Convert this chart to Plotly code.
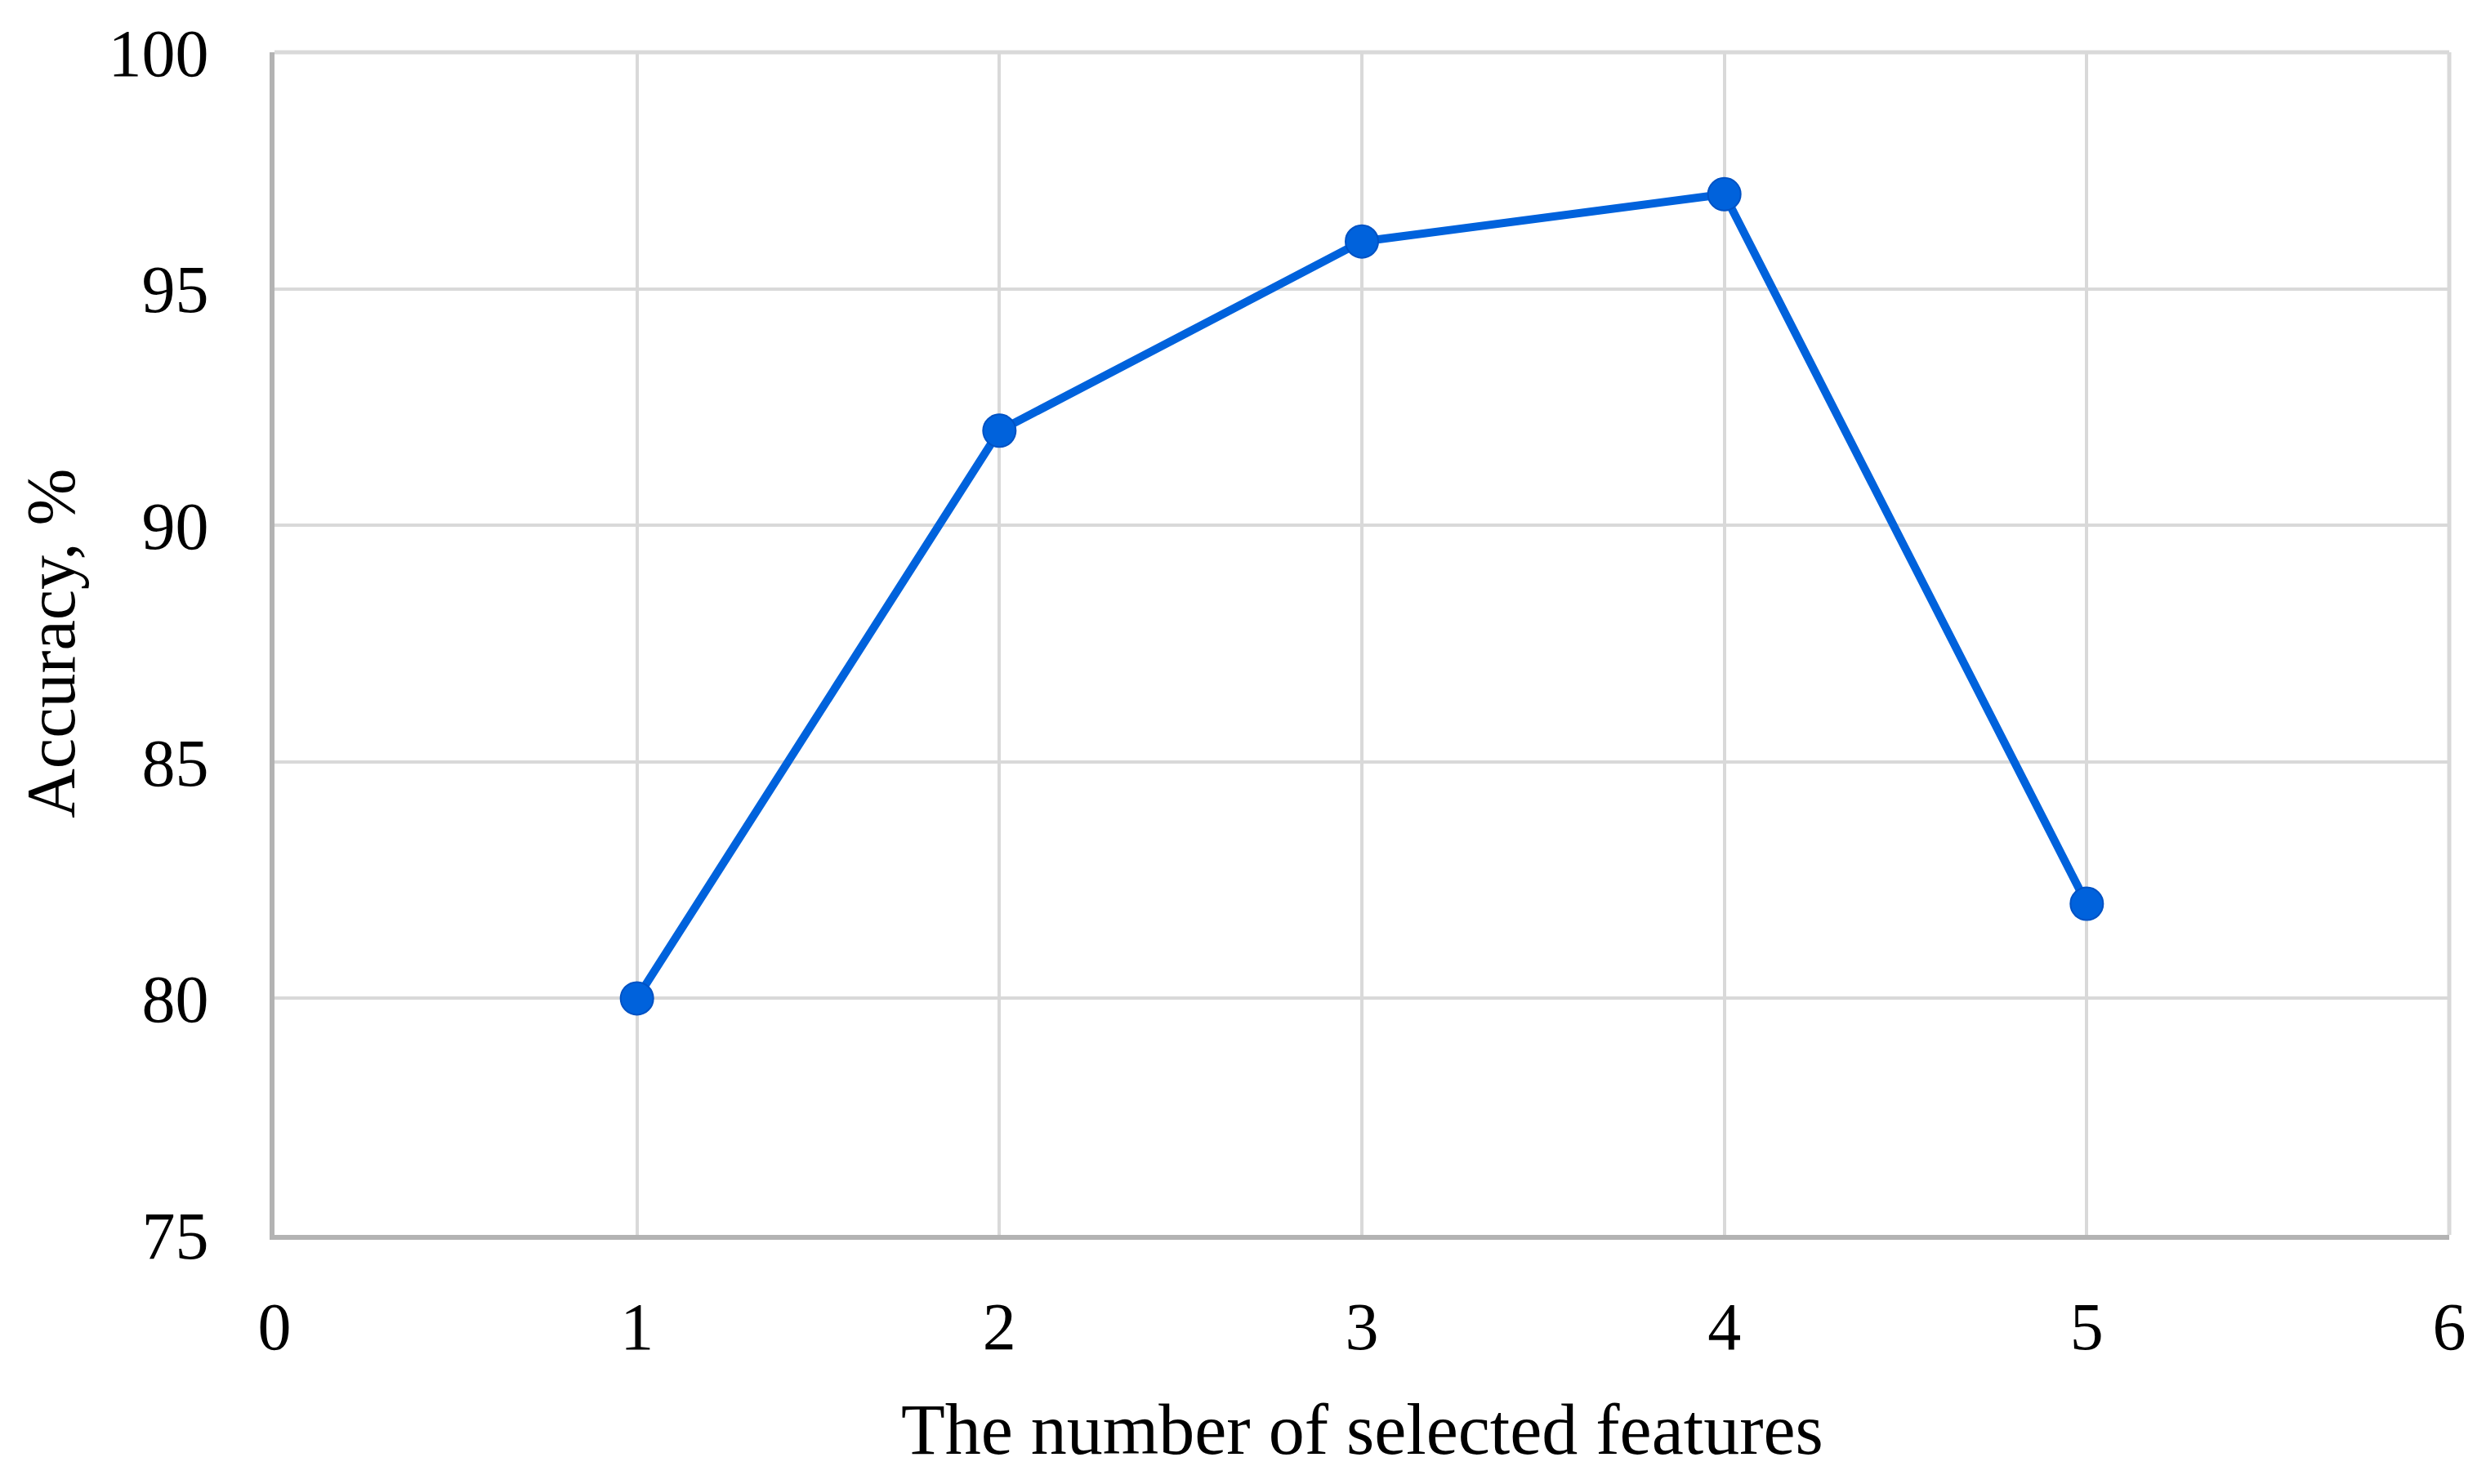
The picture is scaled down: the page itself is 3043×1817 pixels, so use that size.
import plotly.graph_objects as go

# data
n_features = [1, 2, 3, 4, 5]
accuracy = [80, 92, 96, 97, 82]

x_ticks = [0, 1, 2, 3, 4, 5, 6]
y_ticks = [75, 80, 85, 90, 95, 100]

FONT = "Liberation Serif, DejaVu Serif, serif"
GRID = "#d9d9d9"
AXIS = "#b3b3b3"
BLUE = "#0062dc"

fig = go.Figure()
fig.add_trace(go.Scatter(
    x=n_features, y=accuracy, mode="lines+markers",
    line=dict(color=BLUE, width=10),
    marker=dict(color=BLUE, size=40, line=dict(color="#0052c4", width=2)),
    showlegend=False,
))

# the page body adds 8px, so margins are shifted by that
fig.update_layout(
    width=3043, height=1817,
    margin=dict(l=328, r=53, t=54, b=313),
    paper_bgcolor="white", plot_bgcolor="white",
    font=dict(family=FONT, size=82, color="black"),
    xaxis=dict(
        range=[0, 6], tickvals=x_ticks, showgrid=True, gridcolor=GRID, gridwidth=4,
        zeroline=False, showline=True, linecolor=AXIS, linewidth=6, mirror=False,
        ticks="", ticklabelstandoff=36, tickfont=dict(size=82),
    ),
    yaxis=dict(
        range=[75, 100], tickvals=y_ticks, showgrid=True, gridcolor=GRID, gridwidth=4,
        zeroline=False, showline=True, linecolor=AXIS, linewidth=6, mirror=False,
        ticks="", ticklabelstandoff=58, tickfont=dict(size=82),
    ),
    shapes=[
        # light frame on top and right like the gridlines
        dict(type="line", xref="paper", yref="paper", x0=0, x1=1, y0=1, y1=1,
             line=dict(color=GRID, width=5)),
        dict(type="line", xref="paper", yref="paper", x0=1, x1=1, y0=0, y1=1,
             line=dict(color=GRID, width=5)),
    ],
    annotations=[
        dict(text="The number of selected features", xref="paper", yref="paper",
             x=0.5, y=-0.165, xanchor="center", yanchor="middle", showarrow=False,
             font=dict(size=88)),
        dict(text="Accuracy, %", xref="paper", yref="paper", textangle=-90,
             x=-0.103, y=0.5, xanchor="center", yanchor="middle", showarrow=False,
             font=dict(size=84)),
    ],
)

fig.write_html("out.html")
